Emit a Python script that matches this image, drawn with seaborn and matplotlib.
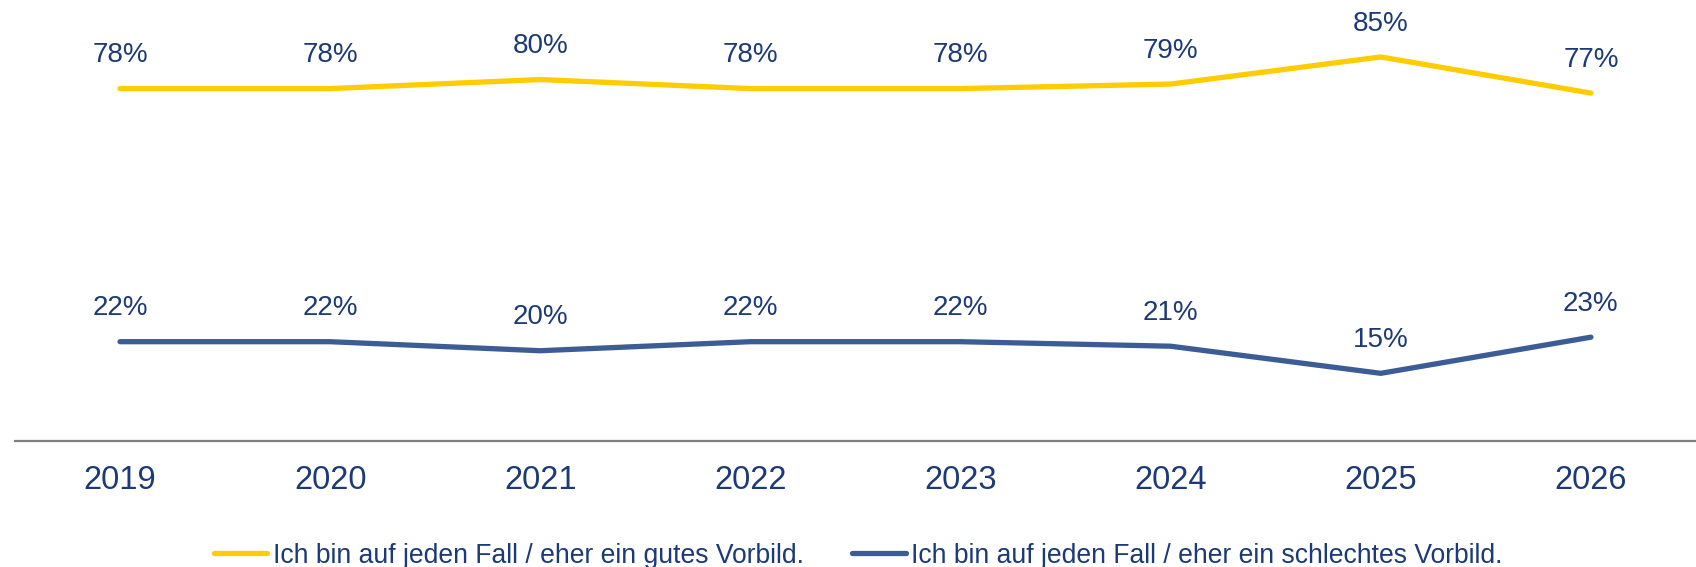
import pandas as pd
import matplotlib
matplotlib.use("Agg")
import matplotlib.pyplot as plt
import seaborn as sns

sns.set_style("white")
plt.rcParams['font.family'] = ['Liberation Sans', 'DejaVu Sans']

years = ["2019", "2020", "2021", "2022", "2023", "2024", "2025", "2026"]
gut = [78, 78, 80, 78, 78, 79, 85, 77]
schlecht = [22, 22, 20, 22, 22, 21, 15, 23]
labels = ["Ich bin auf jeden Fall / eher ein gutes Vorbild.",
          "Ich bin auf jeden Fall / eher ein schlechtes Vorbild."]
colors = ["#FFCC00", "#3C5C96"]
navy = "#1C3A78"

df = pd.DataFrame({
    "Jahr": years * 2,
    "Wert": gut + schlecht,
    "Antwort": [labels[0]] * len(years) + [labels[1]] * len(years),
})

fig = plt.figure(figsize=(16.96, 5.67), dpi=100)
ax = fig.add_axes([0.0088, 0.222, 0.9912, 0.778])

sns.lineplot(data=df, x="Jahr", y="Wert", hue="Antwort", palette=colors,
             linewidth=3.8, ax=ax, sort=False)
for ln in ax.lines:
    ln.set_solid_capstyle("round")
    ln.set_solid_joinstyle("round")

# data labels above each point
for vals in (gut, schlecht):
    for yr, v in zip(years, vals):
        ax.annotate(f"{v}%", (yr, v), xytext=(0, 24), textcoords="offset points",
                    ha="center", va="center", fontsize=20, color=navy)

ax.set_xlim(-0.5, 7.5)
ax.set_ylim(0, 97.6)
ax.set_xlabel("")
ax.set_ylabel("")
ax.set_yticks([])
for s in ["top", "left", "right"]:
    ax.spines[s].set_visible(False)
ax.spines["bottom"].set_color("#7F7F7F")
ax.spines["bottom"].set_linewidth(1.6)
ax.tick_params(axis="x", length=0, pad=17, labelsize=23.5, labelcolor=navy)

handles, labs = ax.get_legend_handles_labels()
ax.get_legend().remove()
leg = fig.legend(handles, labs, loc="center", bbox_to_anchor=(0.506, 0.02), ncol=2,
                 frameon=False, fontsize=19.1, handlelength=2.0, handletextpad=0.2,
                 columnspacing=1.85, borderaxespad=0)
for h in leg.legend_handles:
    h.set_solid_capstyle("round")
for t in leg.get_texts():
    t.set_color(navy)

fig.savefig("out.png", dpi=100)
